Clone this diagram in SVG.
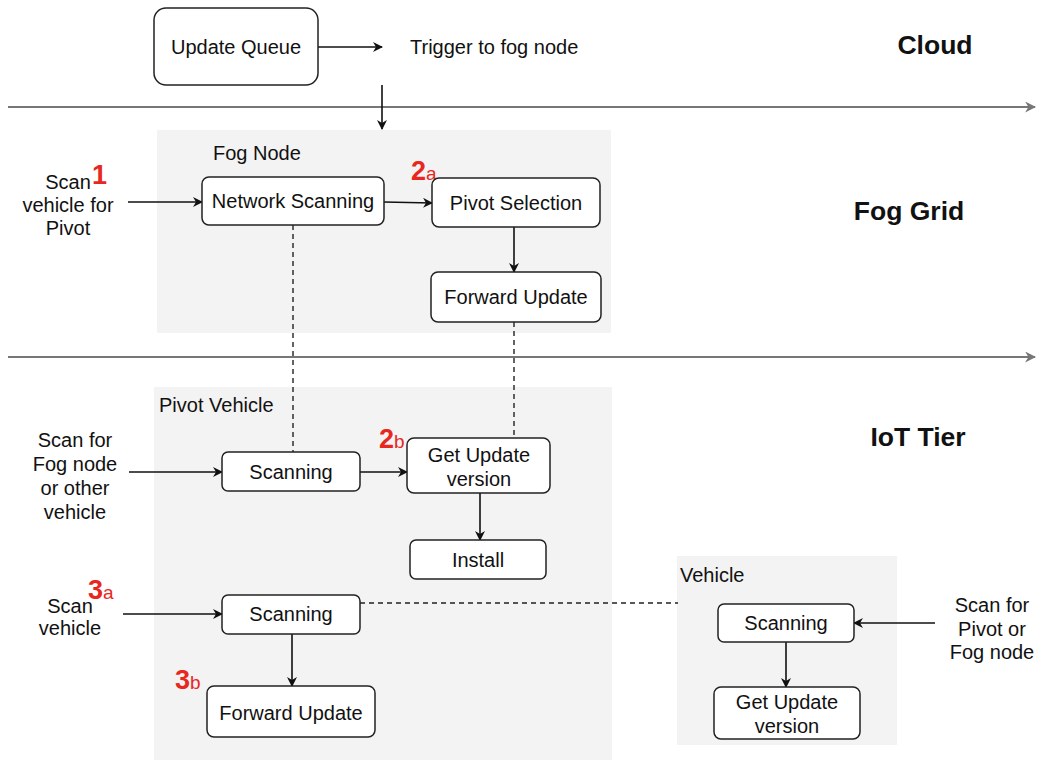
<svg xmlns="http://www.w3.org/2000/svg" width="1039" height="760" viewBox="0 0 1039 760">
  <style>
    text { font-family: "Liberation Sans", Arial, sans-serif; fill: #111; }
    .t { font-size: 20px; text-anchor: middle; dominant-baseline: central; }
    .lbl { font-size: 20px; }
    .tier { font-size: 26.5px; font-weight: bold; text-anchor: middle; dominant-baseline: central; }
    .num { font-size: 27px; font-weight: bold; fill: #e8281f; }
    .sub { font-size: 19px; font-weight: normal; fill: #e8281f; }
    .box { fill: #fff; stroke: #222; stroke-width: 1.5; }
    .zone { fill: #f3f3f3; stroke: none; }
    .axis { stroke: #777; stroke-width: 2; fill: none; }
    .edge { stroke: #111; stroke-width: 1.6; fill: none; marker-end: url(#ah); }
    .dash { stroke: #222; stroke-width: 1.4; fill: none; stroke-dasharray: 5 4; }
  </style>
  <defs>
    <marker id="ah" viewBox="0 0 10 10" refX="9" refY="5" markerWidth="10" markerHeight="10" markerUnits="userSpaceOnUse" orient="auto">
      <path d="M0,0 L10,5 L0,10 L3,5 Z" fill="#111"/>
    </marker>
    <marker id="ag" viewBox="0 0 10 10" refX="9" refY="5" markerWidth="11" markerHeight="11" markerUnits="userSpaceOnUse" orient="auto">
      <path d="M0,0 L10,5 L0,10 L3,5 Z" fill="#777"/>
    </marker>
  </defs>

  <!-- tier backgrounds -->
  <rect id="zone-fog" class="zone" x="157" y="130" width="454" height="203"/>
  <rect id="zone-pivot" class="zone" x="154" y="387" width="458" height="373"/>
  <rect id="zone-vehicle" class="zone" x="677" y="556" width="220" height="189"/>

  <!-- tier separators -->
  <g id="axes">
    <line class="axis" x1="8" y1="107" x2="1035" y2="107" marker-end="url(#ag)"/>
    <line class="axis" x1="8" y1="357" x2="1035" y2="357" marker-end="url(#ag)"/>
  </g>

  <!-- tier titles -->
  <text class="tier" x="935" y="45">Cloud</text>
  <text class="tier" x="909" y="211">Fog Grid</text>
  <text class="tier" x="918" y="437">IoT Tier</text>

  <!-- zone labels -->
  <text class="lbl" x="213" y="160">Fog Node</text>
  <text class="lbl" x="159" y="412">Pivot Vehicle</text>
  <text class="lbl" x="680" y="582">Vehicle</text>

  <!-- connectors -->
  <g id="connectors">
    <line class="edge" x1="318" y1="47" x2="382" y2="47"/>
    <line class="edge" x1="382" y1="85" x2="382" y2="129"/>
    <line class="edge" x1="128" y1="202" x2="202" y2="202"/>
    <line class="edge" x1="384" y1="202" x2="432" y2="203"/>
    <line class="edge" x1="514" y1="227" x2="514" y2="272"/>
    <line class="edge" x1="129" y1="472" x2="222" y2="472"/>
    <line class="edge" x1="360" y1="472" x2="407" y2="472"/>
    <line class="edge" x1="480" y1="493" x2="480" y2="540"/>
    <line class="edge" x1="123" y1="614" x2="222" y2="614"/>
    <line class="edge" x1="292" y1="634" x2="292" y2="686"/>
    <line class="edge" x1="786" y1="642" x2="786" y2="687"/>
    <line class="edge" x1="935" y1="623" x2="854" y2="623"/>
    <line class="dash" x1="293" y1="225" x2="293" y2="452"/>
    <line class="dash" x1="514" y1="322" x2="514" y2="438"/>
    <line class="dash" x1="360" y1="603" x2="678" y2="603"/>
  </g>

  <!-- Cloud -->
  <g id="update-queue">
    <rect class="box" x="154" y="8" width="164" height="77" rx="12"/>
    <text class="t" x="236" y="47">Update Queue</text>
  </g>
  <text class="lbl" x="410" y="54">Trigger to fog node</text>

  <!-- Fog node -->
  <g id="scan-vehicle-pivot">
    <text class="t" x="68" y="182">Scan</text>
    <text class="t" x="68" y="205">vehicle for</text>
    <text class="t" x="68" y="228">Pivot</text>
    <text class="num" x="92" y="184">1</text>
  </g>
  <g id="network-scanning">
    <rect class="box" x="202" y="177" width="182" height="48" rx="7"/>
    <text class="t" x="293" y="201">Network Scanning</text>
  </g>
  <g id="pivot-selection">
    <text class="num" x="411" y="180">2<tspan class="sub">a</tspan></text>
    <rect class="box" x="432" y="178" width="168" height="49" rx="7"/>
    <text class="t" x="516" y="203">Pivot Selection</text>
  </g>
  <g id="forward-update-fog">
    <rect class="box" x="431" y="272" width="170" height="50" rx="7"/>
    <text class="t" x="516" y="297">Forward Update</text>
  </g>

  <!-- Pivot vehicle -->
  <g id="scan-fog-other">
    <text class="t" x="75" y="440">Scan for</text>
    <text class="t" x="75" y="464">Fog node</text>
    <text class="t" x="75" y="488">or other</text>
    <text class="t" x="75" y="512">vehicle</text>
  </g>
  <g id="pivot-scanning">
    <rect class="box" x="222" y="452" width="138" height="39" rx="6"/>
    <text class="t" x="291" y="472">Scanning</text>
  </g>
  <g id="pivot-get-update">
    <text class="num" x="379" y="448">2<tspan class="sub">b</tspan></text>
    <rect class="box" x="407" y="438" width="143" height="55" rx="7"/>
    <text class="t" x="479" y="455">Get Update</text>
    <text class="t" x="479" y="479">version</text>
  </g>
  <g id="install">
    <rect class="box" x="410" y="540" width="136" height="39" rx="6"/>
    <text class="t" x="478" y="560">Install</text>
  </g>
  <g id="scan-vehicle">
    <text class="t" x="70" y="606">Scan</text>
    <text class="t" x="70" y="628">vehicle</text>
    <text class="num" x="88" y="599">3<tspan class="sub">a</tspan></text>
  </g>
  <g id="pivot-scanning-2">
    <rect class="box" x="222" y="595" width="138" height="39" rx="6"/>
    <text class="t" x="291" y="614">Scanning</text>
  </g>
  <g id="forward-update-pivot">
    <text class="num" x="175" y="689">3<tspan class="sub">b</tspan></text>
    <rect class="box" x="207" y="686" width="168" height="51" rx="7"/>
    <text class="t" x="291" y="713">Forward Update</text>
  </g>

  <!-- Vehicle -->
  <g id="vehicle-scanning">
    <rect class="box" x="718" y="604" width="136" height="38" rx="6"/>
    <text class="t" x="786" y="623">Scanning</text>
  </g>
  <g id="vehicle-get-update">
    <rect class="box" x="714" y="687" width="146" height="52" rx="7"/>
    <text class="t" x="787" y="702">Get Update</text>
    <text class="t" x="787" y="726">version</text>
  </g>
  <g id="scan-pivot-fog">
    <text class="t" x="992" y="605">Scan for</text>
    <text class="t" x="992" y="629">Pivot or</text>
    <text class="t" x="992" y="652">Fog node</text>
  </g>
</svg>
